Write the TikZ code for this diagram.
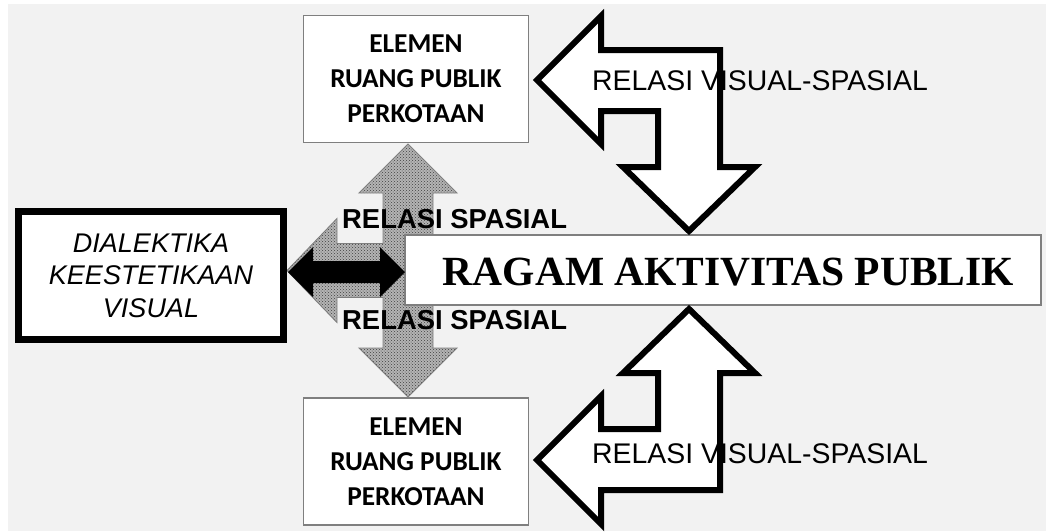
\documentclass[tikz,border=0pt]{standalone}
\usepackage{fontspec}
\setmainfont{Liberation Sans}
\newfontfamily\carlitofont{Carlito}
\newfontfamily\serifface{Liberation Serif}
\usetikzlibrary{patterns}
\definecolor{canvas}{HTML}{F2F2F2}
\definecolor{ditherbase}{HTML}{B4B4B4}
\definecolor{thinedge}{HTML}{7F7F7F}

\tikzset{
  elembox/.style={draw=thinedge, line width=1.3pt, fill=white, inner sep=0pt,
    minimum width=225pt, minimum height=127pt, align=center,
    font=\carlitofont\bfseries\fontsize{27.3}{35}\selectfont},
  dialbox/.style={draw=black, line width=7pt, fill=white, inner sep=0pt,
    minimum width=265pt, minimum height=128pt, align=center,
    font=\itshape\fontsize{27}{32.5}\selectfont},
  ragambox/.style={draw=thinedge, line width=1.6pt, fill=white, inner sep=0pt,
    minimum width=636pt, minimum height=70pt},
  ragamtext/.style={inner sep=0pt, font=\serifface\bfseries\fontsize{41.5}{48}\selectfont},
  spatlabel/.style={inner sep=0pt, font=\bfseries\fontsize{27.4}{32}\selectfont},
  vislabel/.style={inner sep=0pt, font=\fontsize{28.4}{34}\selectfont},
  spatialarrow/.style={draw=thinedge, line width=0.9pt,
    preaction={fill=ditherbase}, pattern=crosshatch dots, pattern color=black!75},
  bentarrow/.style={draw=black, line width=6pt, fill=white, line join=miter, miter limit=10},
}

\begin{document}
\begin{tikzpicture}[x=1pt, y=-1pt]
\useasboundingbox (0,0) rectangle (1046,531);
\fill[white] (0,0) rectangle (1046,531);
\fill[canvas] (8,4) rectangle (1046,531);

% three-way spatial arrow (up, down, left)
\draw[spatialarrow]
  (408,144) -- (457,193) -- (433,193) -- (433,348) -- (457,348) -- (408,397)
  -- (359,348) -- (383,348) -- (383,297.5) -- (337,297.5) -- (337,322.5)
  -- (287,270.5) -- (337,218.5) -- (337,243.5) -- (383,243.5) -- (383,193)
  -- (359,193) -- cycle;

% boxes
\node[elembox] (elemTop) at (416,79) {ELEMEN\\RUANG PUBLIK\\PERKOTAAN};
\node[elembox] (elemBottom) at (416,461.5) {ELEMEN\\RUANG PUBLIK\\PERKOTAAN};
\node[ragambox] (ragam) at (723,270) {};
\node[ragamtext, anchor=base] (ragamLabel) at (728.5,285) {RAGAM AKTIVITAS PUBLIK};
\node[dialbox] (dial) at (151,275.5) {DIALEKTIKA\\KEESTETIKAAN\\VISUAL};

% black double arrow between the dialectic box and the activity box
\fill[black] (288,272) -- (313,247) -- (313,261) -- (380,261) -- (380,247)
  -- (405,272) -- (380,297) -- (380,283) -- (313,283) -- (313,297) -- cycle;

% bent arrow: activities -> upper element
\draw[bentarrow]
  (537,80) -- (601,16) -- (601,50) -- (720,50) -- (720,167) -- (755,167)
  -- (689,231) -- (623,167) -- (658,167) -- (658,111) -- (601,111)
  -- (601,144) -- cycle;

% bent arrow: activities -> lower element
\draw[bentarrow]
  (537,460) -- (601,524) -- (601,490) -- (720,490) -- (720,373) -- (755,373)
  -- (689,309) -- (623,373) -- (658,373) -- (658,429) -- (601,429)
  -- (601,396) -- cycle;

% labels
\node[spatlabel, anchor=base west] (spTop) at (342,228) {RELASI SPASIAL};
\node[spatlabel, anchor=base west] (spBottom) at (342,329) {RELASI SPASIAL};
\node[vislabel, anchor=base west] (visTop) at (592,90) {RELASI VISUAL-SPASIAL};
\node[vislabel, anchor=base west] (visBottom) at (592,463) {RELASI VISUAL-SPASIAL};
\end{tikzpicture}
\end{document}
